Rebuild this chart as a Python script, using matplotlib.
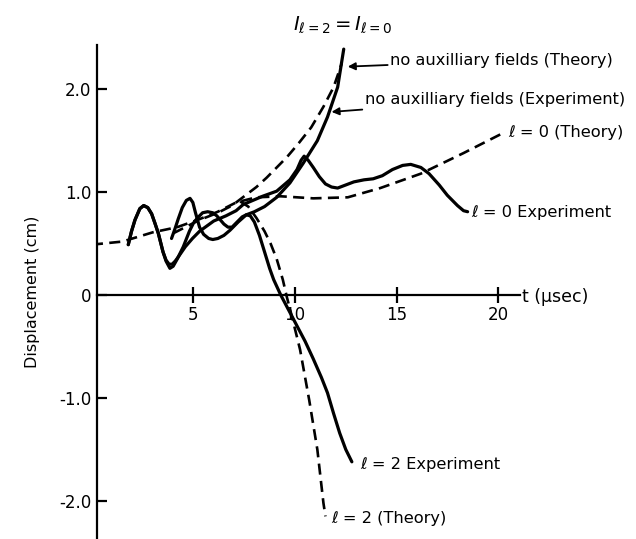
import numpy as np
import matplotlib
matplotlib.use('Agg')
import matplotlib.pyplot as plt

# l = 0 theory (dashed)
l0_th_t = [0.0, 1.5, 3.0, 4.2, 5.2, 6.2, 7.1, 8.1, 9.3, 10.9, 12.6, 14.2, 16.2, 18.3, 20.2]
l0_th_d = [0.49, 0.52, 0.61, 0.66, 0.73, 0.81, 0.90, 0.95, 0.96, 0.94, 0.95, 1.04, 1.18, 1.38, 1.57]

# no auxiliary fields, theory (dashed)
na_th_t = [4.0, 5.3, 6.2, 6.9, 7.5, 8.1, 8.6, 9.1, 9.6, 10.2, 10.8, 11.4, 11.9, 12.3]
na_th_d = [0.60, 0.73, 0.80, 0.87, 0.96, 1.05, 1.14, 1.24, 1.34, 1.48, 1.63, 1.83, 2.02, 2.25]

# no auxiliary fields, experiment (solid)
na_ex_t = [3.92, 4.1, 4.25, 4.45, 4.65, 4.83, 4.97, 5.1, 5.3, 5.5, 5.75, 5.95, 6.2, 6.5,
           6.8, 7.2, 7.6, 8.0, 8.5, 9.1, 9.75, 10.4, 11.1, 11.6, 12.1, 12.4]
na_ex_d = [0.55, 0.65, 0.74, 0.85, 0.92, 0.94, 0.90, 0.80, 0.66, 0.59, 0.55, 0.54, 0.55, 0.58,
           0.63, 0.71, 0.78, 0.81, 0.86, 0.95, 1.09, 1.28, 1.50, 1.73, 2.02, 2.39]

# l = 0 experiment (solid)
l0_ex_t = [1.79, 1.95, 2.12, 2.36, 2.55, 2.75, 2.94, 3.1, 3.27, 3.5, 3.65, 3.8, 3.95, 4.1,
           4.25, 4.6, 4.95, 5.3, 6.0, 6.6, 7.1, 7.45, 8.4, 9.1, 9.75, 10.1, 10.3, 10.45,
           10.65, 10.9, 11.2, 11.5, 11.8, 12.1, 12.5, 12.9, 13.4, 13.85, 14.3, 14.8, 15.3,
           15.7, 16.2, 16.6, 17.1, 17.5, 18.0, 18.3, 18.5]
l0_ex_d = [0.49, 0.62, 0.73, 0.84, 0.87, 0.85, 0.79, 0.70, 0.60, 0.42, 0.34, 0.30, 0.30, 0.33,
           0.37, 0.47, 0.55, 0.62, 0.72, 0.77, 0.82, 0.88, 0.96, 1.01, 1.12, 1.22, 1.31, 1.35,
           1.31, 1.24, 1.15, 1.08, 1.05, 1.04, 1.07, 1.10, 1.12, 1.13, 1.16, 1.22, 1.26,
           1.27, 1.24, 1.18, 1.07, 0.97, 0.87, 0.82, 0.81]

# l = 2 experiment (solid)
l2_ex_t = [1.79, 1.95, 2.12, 2.36, 2.55, 2.75, 2.94, 3.1, 3.27, 3.5, 3.65, 3.84, 4.0, 4.2,
           4.5, 4.8, 5.0, 5.2, 5.45, 5.7, 5.95, 6.15, 6.5, 6.7, 6.9, 7.1, 7.4, 7.6, 7.8,
           8.0, 8.25, 8.5, 8.75, 8.95, 9.3, 9.7, 10.1, 10.5, 10.9, 11.3, 11.6, 11.9, 12.2,
           12.5, 12.8]
l2_ex_d = [0.49, 0.62, 0.73, 0.84, 0.87, 0.85, 0.79, 0.70, 0.60, 0.42, 0.33, 0.26, 0.28, 0.35,
           0.47, 0.62, 0.70, 0.75, 0.80, 0.81, 0.80, 0.77, 0.69, 0.66, 0.66, 0.70, 0.76, 0.78, 0.77,
           0.71, 0.58, 0.42, 0.26, 0.15, 0.0, -0.15, -0.30, -0.45, -0.62, -0.80, -0.95, -1.15, -1.34,
           -1.50, -1.62]

# l = 2 theory (dashed)
l2_th_t = [7.3, 7.7, 8.1, 8.5, 8.8, 9.1, 9.4, 9.6, 9.85, 10.25, 10.7, 11.1, 11.4, 11.5]
l2_th_d = [0.91, 0.86, 0.75, 0.62, 0.50, 0.35, 0.15, -0.02, -0.21, -0.53, -1.02, -1.50, -2.02, -2.15]

fig = plt.figure(figsize=(6.36, 5.39), dpi=100)
ax = fig.add_axes([97/636, 0, (520-97)/636, (539-45)/539])
ax.set_xlim(0.25, 21.08)
ax.set_ylim(-2.37, 2.43)

sol = dict(color='black', lw=2.3, solid_capstyle='round', solid_joinstyle='round')
das = dict(color='black', lw=1.9, ls=(0, (4.2, 2.4)))

ax.plot(l0_th_t, l0_th_d, **das)
ax.plot(na_th_t, na_th_d, **das)
ax.plot(l2_th_t, l2_th_d, **das)
ax.plot(na_ex_t, na_ex_d, **sol)
ax.plot(l0_ex_t, l0_ex_d, **sol)
ax.plot(l2_ex_t, l2_ex_d, **sol)

for s in ['top', 'right']:
    ax.spines[s].set_visible(False)
ax.spines['bottom'].set_position(('data', 0))
ax.spines['left'].set_linewidth(1.6)
ax.spines['bottom'].set_linewidth(1.6)

ax.set_yticks([-2, -1, 0, 1, 2])
ax.set_yticklabels(['-2.0', '-1.0', '0', '1.0', '2.0'])
ax.tick_params(axis='y', direction='in', length=7, width=1.6, labelsize=12, pad=4)
ax.set_xticks([5, 10, 15, 20])
ax.set_xticklabels(['5', '10', '15', '20'])
ax.tick_params(axis='x', direction='inout', length=12, width=1.6, labelsize=12, pad=2)

ax.set_ylabel('Displacement (cm)', fontsize=11.5, labelpad=14)
ax.text(21.2, -0.02, 't (μsec)', fontsize=12.5, ha='left', va='center')

arr = dict(arrowstyle='-|>', lw=1.3, color='black', mutation_scale=11, shrinkA=0, shrinkB=0)
ax.annotate('no auxilliary fields (Theory)', xy=(12.6, 2.22), xytext=(14.7, 2.28),
            fontsize=11.7, ha='left', va='center', arrowprops=arr)
ax.annotate('no auxilliary fields (Experiment)', xy=(11.8, 1.78), xytext=(13.45, 1.9),
            fontsize=11.7, ha='left', va='center', arrowprops=arr)
ax.text(20.5, 1.58, 'ℓ = 0 (Theory)', fontsize=11.7, ha='left', va='center')
ax.text(18.7, 0.80, 'ℓ = 0 Experiment', fontsize=11.7, ha='left', va='center')
ax.text(13.2, -1.65, 'ℓ = 2 Experiment', fontsize=11.7, ha='left', va='center')
ax.text(11.8, -2.17, 'ℓ = 2 (Theory)', fontsize=11.7, ha='left', va='center')

fig.text(343/636, 1 - 25/539, r'$I_{\ell=2} = I_{\ell=0}$', fontsize=14, ha='center', va='center')

fig.savefig('out.png', dpi=100)
